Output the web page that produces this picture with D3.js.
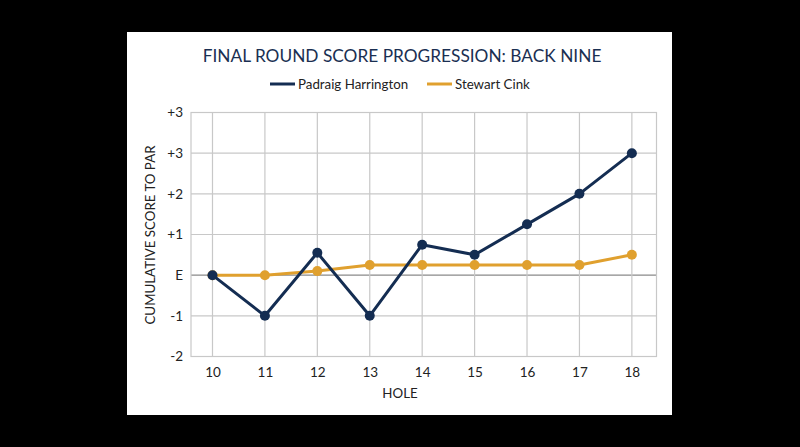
<!DOCTYPE html>
<html>
<head>
<meta charset="utf-8">
<script src="https://cdn.jsdelivr.net/npm/d3@7"></script>
<style>
  html, body { margin: 0; padding: 0; background: #000; }
  svg { display: block; }
  text { font-family: Lato, "Open Sans", sans-serif; }
</style>
</head>
<body>
<div id="chart"></div>
<script>
const holes = [10, 11, 12, 13, 14, 15, 16, 17, 18];
const harrington = [0, -1, 0.55, -1, 0.75, 0.5, 1.25, 2, 3];
const cink = [0, 0, 0.1, 0.25, 0.25, 0.25, 0.25, 0.25, 0.5];
const yTicks = [-2, -1, 0, 1, 2, 3, 4];
const yTickLabels = ["-2", "-1", "E", "+1", "+2", "+3", "+3"];

const series = [
  { name: "Padraig Harrington", values: harrington, color: "#142d52" },
  { name: "Stewart Cink", values: cink, color: "#e0a02e" }
];

const width = 800, height = 447;
const panel = { x: 127, y: 32, w: 545, h: 383 };
const plot = { left: 191, right: 656.5, top: 112.5, bottom: 356.5 };

const svg = d3.select("#chart").append("svg")
  .attr("width", width)
  .attr("height", height);

svg.append("rect")
  .attr("width", width).attr("height", height)
  .attr("fill", "#000");

svg.append("rect")
  .attr("x", panel.x).attr("y", panel.y)
  .attr("width", panel.w).attr("height", panel.h)
  .attr("fill", "#fff");

const x = d3.scaleLinear()
  .domain([9.59, 18.47])
  .range([plot.left, plot.right]);

const y = d3.scaleLinear()
  .domain([-2, 4])
  .range([plot.bottom, plot.top]);

// grid
const grid = svg.append("g").attr("class", "grid");
grid.selectAll("line.h")
  .data(yTicks)
  .enter().append("line")
  .attr("class", "h")
  .attr("x1", plot.left).attr("x2", plot.right)
  .attr("y1", d => y(d)).attr("y2", d => y(d))
  .attr("stroke", d => d === 0 ? "#8a8a8a" : "#c8c8c8")
  .attr("stroke-width", d => d === 0 ? 1.4 : 1.2);

grid.selectAll("line.v")
  .data(holes)
  .enter().append("line")
  .attr("class", "v")
  .attr("x1", d => x(d)).attr("x2", d => x(d))
  .attr("y1", plot.top).attr("y2", plot.bottom)
  .attr("stroke", "#c8c8c8")
  .attr("stroke-width", 1.2);

grid.append("rect")
  .attr("x", plot.left).attr("y", plot.top)
  .attr("width", plot.right - plot.left)
  .attr("height", plot.bottom - plot.top)
  .attr("fill", "none")
  .attr("stroke", "#c8c8c8")
  .attr("stroke-width", 1.2);

// axes
const yAxis = svg.append("g")
  .attr("transform", `translate(${plot.left},0)`)
  .call(d3.axisLeft(y).tickValues(yTicks)
    .tickFormat((d, i) => yTickLabels[i]).tickSize(0).tickPadding(8));
yAxis.select(".domain").remove();
yAxis.selectAll("text")
  .attr("font-size", 13.5)
  .attr("fill", "#222")
  .style("font-family", "Lato, sans-serif");

const xAxis = svg.append("g")
  .attr("transform", `translate(0,${plot.bottom})`)
  .call(d3.axisBottom(x).tickValues(holes).tickFormat(d3.format("d")).tickSize(0).tickPadding(11));
xAxis.select(".domain").remove();
xAxis.selectAll("text")
  .attr("font-size", 13.5)
  .attr("fill", "#222")
  .style("font-family", "Lato, sans-serif");

// axis titles
svg.append("text")
  .attr("x", 400)
  .attr("y", 398)
  .attr("text-anchor", "middle")
  .attr("font-size", 13.3)
  .attr("fill", "#222")
  .text("HOLE");

svg.append("text")
  .attr("transform", `translate(155,${(143 + 327) / 2}) rotate(-90)`)
  .attr("text-anchor", "middle")
  .attr("font-size", 13.3)
  .attr("fill", "#222")
  .text("CUMULATIVE SCORE TO PAR");

// title
svg.append("text")
  .attr("x", 402)
  .attr("y", 61.5)
  .attr("text-anchor", "middle")
  .attr("font-size", 17.3)
  .attr("fill", "#1a2f52")
  .text("FINAL ROUND SCORE PROGRESSION: BACK NINE");

// legend
const legendPos = [270, 427];
const legend = svg.selectAll("g.legend")
  .data(series)
  .enter().append("g")
  .attr("class", "legend")
  .attr("transform", (d, i) => `translate(${legendPos[i]},84)`);
legend.append("line")
  .attr("x1", 0).attr("x2", 25)
  .attr("stroke", d => d.color)
  .attr("stroke-width", 3);
legend.append("text")
  .attr("x", 28)
  .attr("dy", "0.35em")
  .attr("font-size", 13.3)
  .attr("fill", "#222")
  .text(d => d.name);

// lines
const line = d3.line()
  .x((d, i) => x(holes[i]))
  .y(d => y(d));

const lines = svg.selectAll("g.series")
  .data(series.slice().reverse())
  .enter().append("g")
  .attr("class", "series");

lines.append("path")
  .attr("d", d => line(d.values))
  .attr("fill", "none")
  .attr("stroke", d => d.color)
  .attr("stroke-width", 3)
  .attr("stroke-linejoin", "round");

lines.selectAll("circle")
  .data(d => d.values.map((v, i) => ({ v, i, color: d.color })))
  .enter().append("circle")
  .attr("cx", d => x(holes[d.i]))
  .attr("cy", d => y(d.v))
  .attr("r", 5)
  .attr("fill", d => d.color);
</script>
</body>
</html>
